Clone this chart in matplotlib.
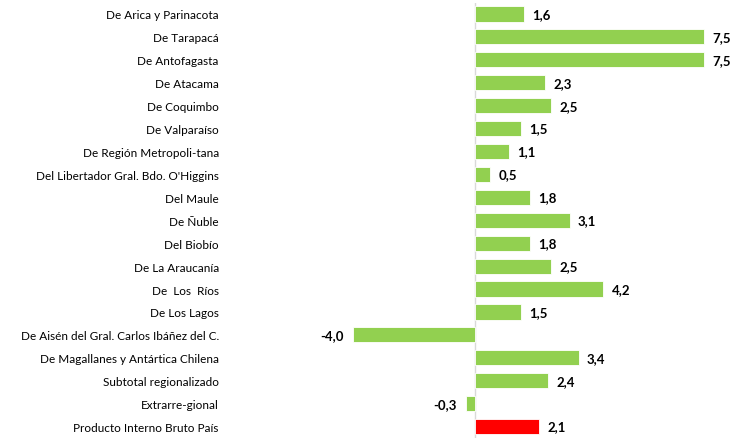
import matplotlib
matplotlib.use("Agg")
import matplotlib.pyplot as plt
from matplotlib import font_manager

categories = [
    "De Arica y Parinacota", "De Tarapacá", "De Antofagasta", "De Atacama",
    "De Coquimbo", "De Valparaíso", "De Región Metropoli-tana",
    "Del Libertador Gral. Bdo. O'Higgins", "Del Maule", "De Ñuble",
    "Del Biobío", "De La Araucanía", "De  Los  Ríos", "De Los Lagos",
    "De Aisén del Gral. Carlos Ibáñez del C.", "De Magallanes y Antártica Chilena",
    "Subtotal regionalizado", "Extrarre-gional", "Producto Interno Bruto País",
]
values = [1.6, 7.5, 7.5, 2.3, 2.5, 1.5, 1.1, 0.5, 1.8, 3.1, 1.8, 2.5, 4.2, 1.5,
          -4.0, 3.4, 2.4, -0.3, 2.1]
labels = ["1,6", "7,5", "7,5", "2,3", "2,5", "1,5", "1,1", "0,5", "1,8", "3,1",
          "1,8", "2,5", "4,2", "1,5", "-4,0", "3,4", "2,4", "-0,3", "2,1"]

names = {f.name for f in font_manager.fontManager.ttflist}
fam = "Liberation Sans Narrow" if "Liberation Sans Narrow" in names else "Lato"

colors = ["#92D050"] * (len(values) - 1) + ["#FF0000"]

fig = plt.figure(figsize=(7.43, 4.39), dpi=100)
ax = fig.add_axes([225 / 743, 0.0, (740 - 225) / 743, 0.992])
y = list(range(len(categories)))
ax.barh(y, values, height=0.66, color=colors, edgecolor="white", linewidth=0.6, zorder=2)
ax.set_xlim(-8.2, 8.69)
ax.set_ylim(len(categories) - 0.5, -0.5)
ax.axvline(0, color="#D9D9D9", linewidth=1.0, zorder=1)
for s in ax.spines.values():
    s.set_visible(False)
ax.set_xticks([])
ax.set_yticks(y)
ax.set_yticklabels(categories, fontsize=8.5, family=fam)
ax.tick_params(axis="y", length=0, pad=4.5)

for yi, v, lab in zip(y, values, labels):
    if v >= 0:
        ax.annotate(lab, (v, yi), xytext=(6, 0), textcoords="offset points",
                    ha="left", va="center", fontsize=9.5, fontweight="bold", family=fam)
    else:
        ax.annotate(lab, (v, yi), xytext=(-7, 0), textcoords="offset points",
                    ha="right", va="center", fontsize=9.5, fontweight="bold", family=fam)

fig.savefig("out.png", dpi=100)
